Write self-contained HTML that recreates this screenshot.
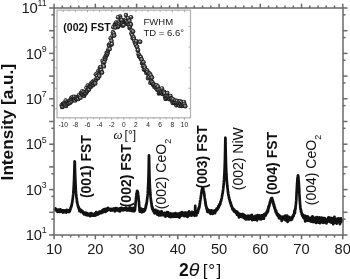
<!DOCTYPE html>
<html><head><meta charset="utf-8"><style>
html,body{margin:0;padding:0;background:#fff;width:350px;height:279px;overflow:hidden}
svg{display:block;will-change:transform}
</style></head><body>
<svg width="350" height="279" viewBox="0 0 350 279">
<rect width="350" height="279" fill="#fff"/>
<polyline points="54.50,209.07 54.62,208.90 54.74,209.34 54.86,209.82 54.98,209.55 55.10,209.97 55.22,209.26 55.34,208.40 55.46,209.73 55.58,209.86 55.70,209.12 55.82,209.25 55.94,209.47 56.06,210.24 56.18,209.65 56.30,209.18 56.42,210.65 56.54,210.07 56.66,211.13 56.78,210.74 56.90,211.17 57.02,210.07 57.14,210.84 57.26,209.80 57.38,209.92 57.50,210.20 57.62,211.88 57.74,210.53 57.86,210.22 57.98,210.15 58.10,211.34 58.22,210.64 58.34,211.03 58.46,210.96 58.58,209.68 58.70,211.03 58.82,210.53 58.94,209.93 59.06,211.00 59.18,210.71 59.30,210.59 59.42,210.66 59.54,211.58 59.66,210.69 59.78,209.80 59.90,211.86 60.02,210.19 60.14,210.73 60.26,211.28 60.38,209.45 60.50,210.33 60.62,211.72 60.74,210.85 60.86,210.51 60.98,211.07 61.10,210.48 61.22,211.02 61.34,210.52 61.46,210.00 61.58,211.49 61.70,210.90 61.82,211.38 61.94,210.99 62.06,211.92 62.18,211.51 62.30,211.27 62.42,210.52 62.54,210.37 62.66,212.10 62.78,211.75 62.90,210.77 63.02,212.61 63.14,211.57 63.26,211.34 63.38,210.42 63.50,210.83 63.62,211.55 63.74,211.60 63.86,211.53 63.98,210.34 64.10,211.69 64.22,211.62 64.34,211.19 64.46,211.53 64.58,211.60 64.70,212.24 64.82,211.50 64.94,211.78 65.06,210.67 65.18,211.00 65.30,211.44 65.42,210.96 65.54,211.62 65.66,210.67 65.78,211.36 65.90,210.95 66.02,212.19 66.14,211.08 66.26,212.41 66.38,212.62 66.50,211.46 66.62,211.83 66.74,211.12 66.86,209.74 66.98,211.73 67.10,211.58 67.22,211.02 67.34,210.82 67.46,211.23 67.58,211.23 67.70,210.64 67.82,210.74 67.94,211.70 68.06,211.08 68.18,211.00 68.30,211.65 68.42,210.82 68.54,211.49 68.66,210.36 68.78,210.82 68.90,210.86 69.02,211.25 69.14,210.95 69.26,212.02 69.38,211.49 69.50,210.57 69.62,211.76 69.74,209.90 69.86,211.11 69.98,209.52 70.10,210.14 70.22,209.03 70.34,209.11 70.46,209.69 70.58,207.97 70.70,207.58 70.82,208.01 70.94,207.76 71.06,207.34 71.18,207.34 71.30,205.96 71.42,206.28 71.54,205.59 71.66,205.42 71.78,204.81 71.83,204.85 71.88,203.57 71.93,203.90 71.98,203.21 72.03,203.33 72.08,203.34 72.13,202.92 72.18,202.73 72.23,202.23 72.28,202.07 72.33,201.73 72.38,201.80 72.43,201.27 72.48,200.08 72.53,200.53 72.58,200.30 72.63,199.47 72.68,198.74 72.73,199.26 72.78,198.46 72.83,198.16 72.88,198.06 72.93,196.87 72.98,196.62 73.03,196.11 73.08,195.83 73.13,194.99 73.18,194.70 73.23,194.03 73.28,193.68 73.33,193.09 73.38,191.87 73.43,191.62 73.48,190.75 73.53,190.10 73.58,189.42 73.63,188.64 73.68,187.60 73.73,186.90 73.78,185.96 73.83,184.97 73.88,183.79 73.93,182.80 73.98,181.72 74.03,180.65 74.08,179.47 74.13,177.86 74.18,176.45 74.23,175.05 74.28,173.40 74.33,171.71 74.38,169.96 74.43,168.16 74.48,166.45 74.53,164.62 74.58,163.26 74.63,162.02 74.68,161.46 74.73,161.51 74.78,162.16 74.83,163.39 74.88,165.10 74.93,166.88 74.98,168.52 75.03,170.45 75.08,172.11 75.13,173.70 75.18,175.51 75.23,177.06 75.28,178.21 75.33,179.56 75.38,180.85 75.43,181.99 75.48,183.24 75.53,184.40 75.58,185.19 75.63,186.28 75.68,187.31 75.73,187.79 75.78,188.71 75.83,189.40 75.88,190.43 75.93,191.08 75.98,191.85 76.03,192.48 76.08,192.86 76.13,193.70 76.18,194.00 76.23,194.56 76.28,194.64 76.33,196.08 76.38,195.94 76.43,196.69 76.48,197.13 76.53,198.01 76.58,198.15 76.63,198.19 76.68,198.85 76.73,199.18 76.78,199.68 76.83,199.55 76.88,200.30 76.93,201.41 76.98,201.21 77.03,202.00 77.08,202.55 77.13,202.09 77.18,201.67 77.23,202.44 77.28,203.19 77.33,203.37 77.38,202.79 77.43,203.44 77.48,203.72 77.53,204.00 77.58,204.19 77.63,204.08 77.68,204.40 77.73,204.76 77.85,205.80 77.97,205.54 78.09,206.53 78.21,206.09 78.33,207.61 78.45,207.42 78.57,207.70 78.69,208.70 78.81,207.43 78.93,207.85 79.05,209.14 79.17,208.73 79.29,209.19 79.41,211.07 79.53,209.72 79.65,210.11 79.77,210.23 79.89,211.00 80.01,210.56 80.13,210.53 80.25,209.74 80.37,210.27 80.49,210.50 80.61,209.65 80.73,211.03 80.85,211.02 80.97,212.01 81.09,209.99 81.21,210.46 81.33,210.58 81.45,210.83 81.57,211.29 81.69,211.31 81.81,211.71 81.93,211.78 82.05,211.70 82.17,210.85 82.29,211.57 82.41,212.07 82.53,212.51 82.65,212.64 82.77,211.26 82.89,212.08 83.01,212.46 83.13,212.83 83.25,213.44 83.37,212.84 83.49,212.31 83.61,213.25 83.73,213.24 83.85,213.33 83.97,213.20 84.09,214.45 84.21,213.63 84.33,214.14 84.45,213.06 84.57,214.24 84.69,213.36 84.81,212.74 84.93,214.03 85.05,214.26 85.17,213.75 85.29,213.91 85.41,214.63 85.53,213.66 85.65,212.61 85.77,214.22 85.89,214.21 86.01,214.83 86.13,213.91 86.25,215.03 86.37,214.97 86.49,213.34 86.61,214.89 86.73,213.54 86.85,213.26 86.97,214.18 87.09,214.00 87.21,213.05 87.33,214.59 87.45,214.90 87.57,215.47 87.69,214.52 87.81,213.54 87.93,213.94 88.05,215.31 88.17,215.28 88.29,215.07 88.41,214.54 88.53,214.92 88.65,214.65 88.77,214.63 88.89,215.08 89.01,214.93 89.13,214.74 89.25,214.94 89.37,214.52 89.49,213.53 89.61,214.44 89.73,214.81 89.85,216.05 89.97,214.56 90.09,216.22 90.21,215.83 90.33,214.20 90.45,214.29 90.57,214.90 90.69,216.01 90.81,215.04 90.93,215.26 91.05,214.30 91.17,213.13 91.29,214.59 91.41,215.30 91.53,215.57 91.65,214.76 91.77,214.84 91.89,215.54 92.01,214.61 92.13,215.52 92.25,213.87 92.37,213.90 92.49,213.88 92.61,215.00 92.73,214.27 92.85,214.73 92.97,214.91 93.09,214.87 93.21,215.56 93.33,215.65 93.45,214.01 93.57,214.70 93.69,214.37 93.81,213.77 93.93,215.73 94.05,215.01 94.17,214.28 94.29,214.10 94.41,214.63 94.53,213.57 94.65,214.14 94.77,215.15 94.89,214.92 95.01,213.62 95.13,213.84 95.25,215.54 95.37,213.13 95.49,213.65 95.61,213.07 95.73,214.31 95.85,214.22 95.97,214.80 96.09,212.08 96.21,214.04 96.33,212.72 96.45,214.33 96.57,213.70 96.69,215.03 96.81,214.05 96.93,213.01 97.05,214.63 97.17,212.89 97.29,213.40 97.41,214.39 97.53,213.96 97.65,213.90 97.77,213.57 97.89,213.90 98.01,214.06 98.13,213.61 98.25,214.08 98.37,214.21 98.49,213.23 98.61,212.48 98.73,214.21 98.85,213.01 98.97,213.43 99.09,213.62 99.21,212.20 99.33,213.15 99.45,211.60 99.57,213.23 99.69,212.30 99.81,212.69 99.93,213.02 100.05,211.96 100.17,212.45 100.29,211.83 100.41,212.25 100.53,212.96 100.65,212.17 100.77,211.99 100.89,211.26 101.01,212.59 101.13,211.88 101.25,213.07 101.37,211.24 101.49,212.47 101.61,212.95 101.73,211.59 101.85,210.66 101.97,212.56 102.09,212.17 102.21,211.85 102.33,212.08 102.45,210.90 102.57,211.74 102.69,211.63 102.81,210.61 102.93,211.56 103.05,210.63 103.17,211.64 103.29,211.77 103.41,212.19 103.53,209.38 103.65,210.97 103.77,210.50 103.89,210.66 104.01,210.47 104.13,210.51 104.25,209.07 104.37,211.24 104.49,211.58 104.61,211.12 104.73,211.32 104.85,209.71 104.97,209.61 105.09,210.91 105.21,211.18 105.33,210.36 105.45,209.00 105.57,211.96 105.69,209.56 105.81,210.72 105.93,209.08 106.05,210.63 106.17,209.99 106.29,210.86 106.41,210.42 106.53,208.60 106.65,208.98 106.77,209.85 106.89,210.16 107.01,210.91 107.13,209.76 107.25,209.47 107.37,209.49 107.49,209.48 107.61,210.23 107.73,209.42 107.85,209.38 107.97,208.35 108.09,207.90 108.21,209.39 108.33,209.85 108.45,209.30 108.57,209.69 108.69,209.77 108.81,209.24 108.93,209.96 109.05,208.70 109.17,209.21 109.29,208.93 109.41,209.23 109.53,209.63 109.65,209.77 109.77,209.22 109.89,209.43 110.01,208.82 110.13,209.01 110.25,210.05 110.37,208.98 110.49,210.06 110.61,209.52 110.73,209.28 110.85,210.64 110.97,209.01 111.09,208.97 111.21,209.22 111.33,209.43 111.45,209.40 111.57,209.87 111.69,209.34 111.81,209.56 111.93,209.08 112.05,210.08 112.17,208.99 112.29,209.07 112.41,209.30 112.53,209.54 112.65,208.79 112.77,210.48 112.89,208.88 113.01,209.06 113.13,209.04 113.25,208.97 113.37,209.77 113.49,209.48 113.61,208.81 113.73,208.97 113.85,209.15 113.97,210.47 114.09,208.92 114.21,208.45 114.33,208.58 114.45,209.18 114.57,210.55 114.69,208.66 114.81,209.50 114.93,211.32 115.05,209.11 115.17,210.53 115.29,210.38 115.41,209.88 115.53,208.43 115.65,209.67 115.77,209.19 115.89,208.06 116.01,208.18 116.13,209.47 116.25,209.57 116.37,210.34 116.49,209.91 116.61,209.06 116.73,209.08 116.85,209.30 116.97,208.62 117.09,209.97 117.21,209.42 117.33,208.82 117.45,208.93 117.57,208.56 117.69,209.07 117.81,209.60 117.93,209.09 118.05,210.13 118.17,210.62 118.29,208.92 118.41,209.40 118.53,209.13 118.65,210.65 118.77,209.64 118.89,209.81 119.01,210.02 119.13,211.08 119.25,209.61 119.37,208.67 119.49,209.06 119.61,209.81 119.73,209.36 119.85,208.77 119.97,211.33 120.09,209.44 120.21,208.93 120.33,208.82 120.45,208.04 120.57,208.47 120.69,209.10 120.81,209.10 120.93,208.73 121.05,209.75 121.17,209.36 121.29,208.64 121.41,207.83 121.53,209.45 121.65,209.36 121.77,209.17 121.89,208.30 122.01,209.35 122.13,208.20 122.25,210.06 122.37,209.46 122.49,209.47 122.61,208.71 122.73,208.51 122.85,210.47 122.97,210.01 123.09,209.05 123.21,209.81 123.33,210.47 123.45,208.51 123.57,208.93 123.69,208.93 123.81,209.67 123.93,208.51 124.05,209.48 124.17,208.46 124.29,210.00 124.41,209.95 124.53,209.14 124.65,209.84 124.77,208.78 124.89,209.10 125.01,210.01 125.13,209.24 125.25,209.57 125.37,208.60 125.49,209.79 125.61,209.64 125.73,208.37 125.85,207.58 125.97,207.77 126.09,209.25 126.21,209.13 126.33,208.12 126.45,209.40 126.57,210.05 126.69,209.21 126.81,208.95 126.93,209.94 127.05,210.56 127.17,210.40 127.29,208.79 127.41,209.88 127.53,209.41 127.65,209.14 127.77,208.82 127.89,209.56 128.01,208.92 128.13,209.98 128.25,209.58 128.37,210.09 128.49,208.43 128.61,209.32 128.73,209.87 128.85,209.57 128.97,209.47 129.09,208.76 129.21,210.53 129.33,210.10 129.45,209.59 129.57,207.36 129.69,208.57 129.81,209.39 129.93,208.75 130.05,207.72 130.17,209.48 130.29,209.58 130.41,208.37 130.53,208.92 130.65,208.78 130.77,209.69 130.89,207.81 131.01,207.98 131.13,208.87 131.25,208.78 131.37,210.90 131.49,208.84 131.61,209.49 131.73,209.01 131.85,208.82 131.97,209.63 132.09,210.70 132.21,209.09 132.33,209.97 132.45,209.66 132.57,209.88 132.69,209.68 132.81,211.24 132.93,208.47 133.05,209.24 133.17,208.57 133.29,207.89 133.41,209.44 133.53,210.90 133.65,210.18 133.77,210.44 133.89,209.89 134.01,209.44 134.13,211.08 134.25,209.25 134.37,210.69 134.42,209.30 134.47,209.61 134.52,209.77 134.57,209.59 134.62,209.94 134.67,209.99 134.72,210.76 134.77,209.57 134.82,208.27 134.87,208.21 134.92,208.69 134.97,209.11 135.02,209.65 135.07,207.89 135.12,208.33 135.17,207.85 135.22,207.46 135.27,206.72 135.32,206.46 135.37,205.72 135.42,205.66 135.47,204.72 135.52,202.86 135.57,203.40 135.62,202.90 135.67,201.97 135.72,201.32 135.77,201.51 135.82,200.56 135.87,199.55 135.92,199.26 135.97,198.77 136.02,197.72 136.07,198.01 136.12,197.24 136.17,196.95 136.22,195.82 136.27,196.48 136.32,195.63 136.37,195.16 136.42,194.40 136.47,194.04 136.52,193.45 136.57,193.97 136.62,192.99 136.67,192.98 136.72,192.81 136.77,192.23 136.82,192.39 136.87,192.48 136.92,191.84 136.97,191.97 137.02,191.61 137.07,191.23 137.12,191.15 137.17,190.75 137.22,191.16 137.27,191.47 137.32,191.27 137.37,191.33 137.42,191.45 137.47,191.10 137.52,191.47 137.57,191.93 137.62,191.37 137.67,191.74 137.72,191.80 137.77,192.07 137.82,192.16 137.87,192.57 137.92,192.51 137.97,193.02 138.02,193.34 138.07,193.67 138.12,194.58 138.17,194.57 138.22,195.00 138.27,195.27 138.32,196.20 138.37,195.68 138.42,196.65 138.47,197.59 138.52,198.27 138.57,198.28 138.62,198.74 138.67,199.52 138.72,199.76 138.77,200.62 138.82,200.70 138.87,201.81 138.92,202.10 138.97,202.22 139.02,202.04 139.07,204.31 139.12,204.63 139.17,205.40 139.22,205.13 139.27,206.71 139.32,206.90 139.37,207.18 139.42,208.24 139.47,208.74 139.52,208.93 139.57,210.40 139.62,210.44 139.67,210.18 139.72,210.19 139.77,210.49 139.82,211.62 139.87,210.72 139.92,209.82 139.97,210.00 140.02,210.48 140.07,211.11 140.12,209.97 140.17,210.91 140.22,211.38 140.27,211.11 140.32,209.36 140.44,210.35 140.56,209.63 140.68,210.97 140.80,209.86 140.92,211.12 141.04,210.80 141.16,208.70 141.28,210.11 141.40,211.16 141.52,210.85 141.64,210.55 141.76,209.88 141.88,211.26 142.00,212.28 142.12,211.13 142.24,210.90 142.36,210.83 142.48,209.90 142.60,210.68 142.72,210.31 142.84,211.79 142.96,210.28 143.08,209.36 143.20,210.38 143.32,210.78 143.44,210.86 143.56,209.66 143.68,211.66 143.80,211.07 143.92,210.67 144.04,210.48 144.16,211.26 144.28,210.55 144.40,210.75 144.52,210.26 144.64,210.21 144.76,210.63 144.88,209.63 145.00,208.77 145.12,209.67 145.24,208.89 145.36,208.00 145.48,208.70 145.60,207.57 145.72,207.89 145.84,206.19 145.96,205.09 146.08,204.78 146.13,205.79 146.18,205.05 146.23,205.15 146.28,204.92 146.33,203.93 146.38,205.15 146.43,203.69 146.48,203.97 146.53,202.98 146.58,203.29 146.63,203.41 146.68,202.65 146.73,202.13 146.78,202.13 146.83,201.59 146.88,201.68 146.93,202.01 146.98,200.34 147.03,200.04 147.08,199.87 147.13,199.49 147.18,198.68 147.23,198.81 147.28,198.44 147.33,197.76 147.38,196.77 147.43,197.15 147.48,195.72 147.53,195.77 147.58,195.32 147.63,193.97 147.68,193.74 147.73,193.42 147.78,192.44 147.83,191.35 147.88,190.52 147.93,190.13 147.98,189.07 148.03,188.11 148.08,187.46 148.13,186.24 148.18,185.26 148.23,184.22 148.28,183.00 148.33,181.62 148.38,180.25 148.43,178.85 148.48,177.23 148.53,175.31 148.58,173.55 148.63,171.44 148.68,169.20 148.73,166.84 148.78,164.14 148.83,161.63 148.88,158.89 148.93,156.71 148.98,155.35 149.03,155.51 149.08,157.18 149.13,159.49 149.18,162.09 149.23,164.77 149.28,167.33 149.33,169.77 149.38,171.90 149.43,173.89 149.48,175.81 149.53,177.37 149.58,179.40 149.63,180.44 149.68,182.07 149.73,183.00 149.78,184.40 149.83,185.65 149.88,186.45 149.93,187.72 149.98,188.67 150.03,189.73 150.08,190.21 150.13,190.87 150.18,191.49 150.23,192.54 150.28,192.89 150.33,193.86 150.38,194.54 150.43,194.93 150.48,195.35 150.53,196.39 150.58,196.90 150.63,197.39 150.68,197.80 150.73,198.66 150.78,198.38 150.83,199.39 150.88,199.47 150.93,200.42 150.98,200.32 151.03,200.69 151.08,201.43 151.13,200.69 151.18,201.78 151.23,201.46 151.28,202.17 151.33,203.26 151.38,203.44 151.43,203.33 151.48,203.81 151.53,204.09 151.58,204.54 151.63,205.61 151.68,205.03 151.73,206.36 151.78,205.20 151.83,206.04 151.88,206.27 151.93,206.21 151.98,206.15 152.03,207.34 152.15,208.03 152.27,208.09 152.39,209.13 152.51,208.87 152.63,207.60 152.75,209.68 152.87,208.87 152.99,210.55 153.11,209.70 153.23,210.41 153.35,210.49 153.47,210.29 153.59,209.65 153.71,211.01 153.83,211.27 153.95,212.30 154.07,211.31 154.19,212.01 154.31,211.18 154.43,211.88 154.55,210.45 154.67,213.48 154.79,212.12 154.91,211.16 155.03,212.20 155.15,212.61 155.27,212.20 155.39,213.19 155.51,211.94 155.63,209.96 155.75,211.11 155.87,213.12 155.99,212.95 156.11,212.57 156.23,211.35 156.35,213.02 156.47,212.94 156.59,211.55 156.71,211.60 156.83,212.76 156.95,213.47 157.07,213.91 157.19,213.16 157.31,214.61 157.43,211.90 157.55,213.21 157.67,212.21 157.79,210.95 157.91,211.63 158.03,213.84 158.15,211.98 158.27,211.73 158.39,213.57 158.51,213.80 158.63,213.03 158.75,214.49 158.87,211.59 158.99,215.34 159.11,214.13 159.23,213.36 159.35,213.35 159.47,213.01 159.59,212.94 159.71,213.44 159.83,212.17 159.95,215.39 160.07,213.34 160.19,214.07 160.31,213.28 160.43,213.22 160.55,214.37 160.67,214.14 160.79,212.76 160.91,213.23 161.03,214.28 161.15,211.64 161.27,211.40 161.39,215.16 161.51,213.45 161.63,211.30 161.75,213.04 161.87,213.63 161.99,214.09 162.11,214.45 162.23,214.16 162.35,214.53 162.47,213.27 162.59,214.42 162.71,214.48 162.83,215.25 162.95,214.12 163.07,214.98 163.19,214.28 163.31,213.08 163.43,213.77 163.55,213.65 163.67,213.81 163.79,214.12 163.91,214.33 164.03,214.52 164.15,213.47 164.27,215.33 164.39,212.91 164.51,214.24 164.63,215.05 164.75,214.80 164.87,215.01 164.99,214.18 165.11,215.08 165.23,213.22 165.35,215.18 165.47,216.70 165.59,215.16 165.71,216.47 165.83,214.49 165.95,213.40 166.07,213.83 166.19,215.85 166.31,215.29 166.43,212.73 166.55,214.22 166.67,214.56 166.79,213.51 166.91,212.10 167.03,213.29 167.15,214.48 167.27,214.28 167.39,214.03 167.51,215.30 167.63,215.77 167.75,214.65 167.87,215.68 167.99,214.80 168.11,214.65 168.23,212.38 168.35,215.65 168.47,214.92 168.59,214.98 168.71,214.38 168.83,213.78 168.95,215.36 169.07,215.72 169.19,216.57 169.31,215.86 169.43,214.38 169.55,214.89 169.67,216.00 169.79,215.35 169.91,214.96 170.03,214.48 170.15,215.61 170.27,215.26 170.39,216.87 170.51,216.18 170.63,213.34 170.75,217.25 170.87,215.35 170.99,214.77 171.11,215.38 171.23,215.83 171.35,215.06 171.47,215.01 171.59,215.08 171.71,216.93 171.83,215.15 171.95,215.88 172.07,215.56 172.19,214.77 172.31,214.34 172.43,214.08 172.55,215.51 172.67,214.05 172.79,213.79 172.91,213.83 173.03,213.57 173.15,215.15 173.27,215.18 173.39,214.15 173.51,216.41 173.63,214.78 173.75,215.55 173.87,215.38 173.99,216.80 174.11,215.92 174.23,215.02 174.35,214.08 174.47,213.97 174.59,215.08 174.71,215.20 174.83,215.86 174.95,214.58 175.07,215.26 175.19,214.37 175.31,213.18 175.43,215.03 175.55,216.55 175.67,215.89 175.79,216.51 175.91,216.24 176.03,213.65 176.15,214.76 176.27,216.58 176.39,214.32 176.51,213.69 176.63,215.37 176.75,215.70 176.87,215.35 176.99,214.70 177.11,214.33 177.23,213.77 177.35,213.74 177.47,213.77 177.59,213.58 177.71,214.31 177.83,216.59 177.95,215.14 178.07,214.67 178.19,215.40 178.31,214.05 178.43,215.37 178.55,215.96 178.67,213.50 178.79,214.31 178.91,214.77 179.03,214.04 179.15,213.89 179.27,214.64 179.39,217.56 179.51,215.70 179.63,215.48 179.75,216.03 179.87,214.79 179.99,213.76 180.11,215.49 180.23,216.16 180.35,212.85 180.47,215.42 180.59,216.22 180.71,214.67 180.83,214.46 180.95,215.63 181.07,214.05 181.19,215.37 181.31,215.81 181.43,214.65 181.55,214.02 181.67,215.47 181.79,214.45 181.91,214.88 182.03,212.06 182.15,215.49 182.27,213.30 182.39,214.78 182.51,214.85 182.63,213.95 182.75,213.75 182.87,213.35 182.99,214.32 183.11,215.27 183.23,215.19 183.35,214.09 183.47,214.00 183.59,213.13 183.71,214.14 183.83,213.46 183.95,212.97 184.07,214.36 184.19,216.07 184.31,215.74 184.43,215.99 184.55,212.82 184.67,215.35 184.79,213.17 184.91,213.83 185.03,212.64 185.15,213.37 185.27,214.50 185.39,214.59 185.51,214.28 185.63,214.17 185.75,214.90 185.87,214.36 185.99,212.64 186.11,216.07 186.23,214.02 186.35,215.22 186.47,214.07 186.59,213.37 186.71,214.29 186.83,213.42 186.95,215.86 187.07,213.04 187.19,214.81 187.31,213.53 187.43,213.97 187.55,216.83 187.67,214.92 187.79,213.90 187.91,212.51 188.03,213.81 188.15,213.83 188.27,215.54 188.39,212.59 188.51,212.20 188.63,214.02 188.75,214.27 188.87,215.70 188.99,213.11 189.11,211.33 189.23,213.26 189.35,212.69 189.47,213.42 189.59,214.98 189.71,212.58 189.83,215.21 189.95,214.15 190.07,213.64 190.19,213.01 190.31,213.47 190.43,213.49 190.55,214.65 190.67,215.18 190.79,213.79 190.91,214.57 191.03,215.16 191.15,215.11 191.27,214.31 191.39,215.68 191.51,215.15 191.63,215.43 191.75,213.58 191.87,213.35 191.99,211.73 192.11,215.24 192.23,214.41 192.35,212.80 192.47,213.92 192.59,214.02 192.71,211.99 192.83,214.02 192.95,214.82 193.07,214.97 193.19,213.33 193.31,213.36 193.43,215.00 193.55,214.61 193.67,213.12 193.79,213.07 193.91,214.25 194.03,213.02 194.15,213.06 194.27,215.32 194.39,213.90 194.51,213.20 194.63,214.13 194.75,215.60 194.87,213.84 194.99,212.87 195.11,212.10 195.23,205.80 195.35,211.16 195.47,214.57 195.59,212.67 195.71,212.42 195.83,212.65 195.95,213.39 196.07,214.53 196.19,212.90 196.31,213.94 196.43,215.37 196.55,210.84 196.67,212.32 196.79,211.24 196.91,213.39 197.03,211.25 197.15,211.00 197.27,210.86 197.39,211.98 197.51,212.74 197.63,211.72 197.75,213.11 197.87,212.48 197.99,210.84 198.11,211.42 198.23,210.52 198.35,210.19 198.47,208.38 198.59,208.53 198.71,209.13 198.83,207.86 198.95,208.80 199.07,208.02 199.19,206.70 199.31,207.52 199.43,206.32 199.55,206.29 199.67,204.76 199.79,203.20 199.84,204.20 199.89,203.35 199.94,203.62 199.99,203.41 200.04,203.11 200.09,201.41 200.14,200.63 200.19,201.21 200.24,201.43 200.29,200.40 200.34,200.52 200.39,199.65 200.44,199.52 200.49,199.16 200.54,198.65 200.59,198.79 200.64,198.34 200.69,198.50 200.74,197.62 200.79,197.63 200.84,196.77 200.89,196.71 200.94,195.96 200.99,195.48 201.04,195.80 201.09,195.23 201.14,194.92 201.19,194.01 201.24,193.36 201.29,193.32 201.34,193.39 201.39,192.50 201.44,193.12 201.49,191.89 201.54,192.25 201.59,192.54 201.64,190.72 201.69,190.75 201.74,191.24 201.79,190.65 201.84,190.51 201.89,190.19 201.94,190.40 201.99,189.96 202.04,189.45 202.09,189.33 202.14,188.90 202.19,189.03 202.24,188.29 202.29,188.95 202.34,188.57 202.39,189.02 202.44,188.76 202.49,188.03 202.54,188.54 202.59,188.13 202.64,188.25 202.69,188.48 202.74,188.31 202.79,188.37 202.84,188.40 202.89,188.15 202.94,188.24 202.99,188.64 203.04,188.82 203.09,188.63 203.14,188.86 203.19,188.71 203.24,188.45 203.29,189.08 203.34,189.50 203.39,189.73 203.44,190.12 203.49,190.36 203.54,190.61 203.59,190.69 203.64,190.94 203.69,190.86 203.74,191.46 203.79,191.68 203.84,192.27 203.89,191.69 203.94,192.33 203.99,192.23 204.04,192.85 204.09,192.94 204.14,193.83 204.19,193.83 204.24,193.52 204.29,195.18 204.34,194.67 204.39,194.82 204.44,195.63 204.49,195.85 204.54,196.00 204.59,197.11 204.64,197.04 204.69,197.92 204.74,198.21 204.79,198.55 204.84,198.71 204.89,198.94 204.94,199.16 204.99,200.38 205.04,199.14 205.09,199.87 205.14,200.42 205.19,201.30 205.24,201.51 205.29,201.52 205.34,201.92 205.39,203.35 205.44,202.38 205.49,201.70 205.54,204.44 205.59,203.14 205.64,203.79 205.69,204.35 205.74,203.75 205.86,205.94 205.98,205.71 206.10,205.41 206.22,207.00 206.34,207.62 206.46,207.67 206.58,208.46 206.70,207.36 206.82,209.48 206.94,208.44 207.06,210.31 207.18,209.08 207.30,209.90 207.42,212.02 207.54,210.21 207.66,211.24 207.78,210.90 207.90,209.42 208.02,211.74 208.14,211.83 208.26,209.86 208.38,211.08 208.50,209.98 208.62,211.11 208.74,212.23 208.86,211.61 208.98,210.57 209.10,210.89 209.22,211.78 209.34,211.80 209.46,212.00 209.58,212.46 209.70,210.29 209.82,212.04 209.94,213.09 210.06,212.55 210.18,211.51 210.30,211.62 210.42,212.35 210.54,212.85 210.66,212.26 210.78,213.80 210.90,213.48 211.02,211.61 211.14,212.77 211.26,212.01 211.38,211.25 211.50,211.77 211.62,212.33 211.74,210.43 211.86,211.74 211.98,212.65 212.10,211.66 212.22,211.94 212.34,213.06 212.46,212.20 212.58,212.39 212.70,213.98 212.82,212.35 212.94,212.42 213.06,212.52 213.18,213.56 213.30,212.37 213.42,212.05 213.54,211.88 213.66,212.93 213.78,211.32 213.90,212.90 214.02,211.97 214.14,210.58 214.26,212.26 214.38,212.04 214.50,210.61 214.62,211.80 214.74,211.65 214.86,211.13 214.98,210.35 215.10,213.03 215.22,211.78 215.34,211.84 215.46,211.81 215.58,211.52 215.70,211.41 215.82,210.37 215.94,211.24 216.06,210.31 216.18,209.97 216.30,210.77 216.42,209.96 216.54,208.64 216.66,209.56 216.78,210.18 216.90,209.60 217.02,210.12 217.14,209.06 217.26,208.46 217.38,209.58 217.50,208.96 217.62,207.81 217.74,208.84 217.86,208.16 217.98,208.85 218.10,208.51 218.22,208.10 218.34,206.04 218.46,207.60 218.58,207.47 218.70,207.27 218.82,206.77 218.94,206.00 219.06,206.06 219.18,204.63 219.30,205.54 219.42,204.51 219.54,204.96 219.66,204.48 219.78,205.39 219.90,204.31 220.02,203.96 220.14,203.72 220.26,204.44 220.38,202.41 220.50,202.73 220.62,202.37 220.74,201.88 220.86,201.45 220.98,200.72 221.10,201.09 221.22,200.45 221.34,199.41 221.46,198.98 221.58,198.69 221.70,198.23 221.82,197.77 221.94,196.87 222.06,195.77 222.18,195.99 222.30,194.37 222.42,193.93 222.47,194.08 222.52,193.35 222.57,193.79 222.62,193.55 222.67,193.07 222.72,192.45 222.77,192.08 222.82,191.79 222.87,191.24 222.92,191.54 222.97,190.39 223.02,190.56 223.07,189.95 223.12,189.47 223.17,189.26 223.22,188.89 223.27,188.36 223.32,187.66 223.37,187.05 223.42,186.60 223.47,186.49 223.52,185.94 223.57,185.46 223.62,184.63 223.67,184.62 223.72,183.38 223.77,183.16 223.82,182.63 223.87,181.80 223.92,181.05 223.97,180.52 224.02,179.73 224.07,179.18 224.12,178.28 224.17,177.52 224.22,176.94 224.27,175.90 224.32,175.21 224.37,174.32 224.42,173.50 224.47,172.43 224.52,171.26 224.57,170.38 224.62,169.01 224.67,167.80 224.72,166.49 224.77,165.27 224.82,163.59 224.87,161.90 224.92,160.22 224.97,158.25 225.02,156.27 225.07,153.81 225.12,151.34 225.17,148.51 225.22,145.62 225.27,142.48 225.32,139.71 225.37,137.83 225.42,137.67 225.47,139.24 225.52,141.84 225.57,144.97 225.62,147.98 225.67,150.79 225.72,153.40 225.77,155.65 225.82,157.75 225.87,159.85 225.92,161.72 225.97,163.18 226.02,164.71 226.07,166.17 226.12,167.47 226.17,168.92 226.22,170.03 226.27,171.28 226.32,172.35 226.37,173.08 226.42,174.23 226.47,174.76 226.52,175.92 226.57,176.85 226.62,177.44 226.67,178.04 226.72,178.98 226.77,179.97 226.82,180.39 226.87,180.86 226.92,181.84 226.97,182.51 227.02,182.75 227.07,183.50 227.12,184.32 227.17,184.71 227.22,185.32 227.27,185.60 227.32,186.14 227.37,186.37 227.42,186.94 227.47,187.97 227.52,187.92 227.57,188.22 227.62,188.76 227.67,189.01 227.72,189.85 227.77,190.36 227.82,190.20 227.87,191.17 227.92,191.87 227.97,191.26 228.02,192.16 228.07,192.37 228.12,193.07 228.17,193.38 228.22,193.65 228.27,193.71 228.32,193.77 228.37,195.01 228.42,194.23 228.54,195.63 228.66,196.26 228.78,196.22 228.90,197.12 229.02,198.32 229.14,197.43 229.26,199.15 229.38,199.17 229.50,199.68 229.62,199.58 229.74,200.94 229.86,200.65 229.98,201.96 230.10,201.41 230.22,202.80 230.34,202.98 230.46,202.11 230.58,203.34 230.70,203.80 230.82,202.90 230.94,204.32 231.06,205.34 231.18,204.71 231.30,206.19 231.42,205.04 231.54,205.26 231.66,206.67 231.78,206.98 231.90,206.71 232.02,207.06 232.14,207.98 232.26,207.16 232.38,209.20 232.50,208.31 232.62,208.51 232.74,208.63 232.86,208.42 232.98,209.74 233.10,208.61 233.22,209.37 233.34,209.91 233.46,210.64 233.58,210.68 233.70,209.67 233.82,210.87 233.94,210.23 234.06,209.60 234.18,209.77 234.30,209.50 234.42,211.14 234.54,211.93 234.66,210.35 234.78,211.07 234.90,210.53 235.02,211.59 235.14,210.72 235.26,211.14 235.38,211.37 235.50,211.67 235.62,211.88 235.74,212.13 235.86,212.25 235.98,211.69 236.10,213.13 236.22,211.27 236.34,213.01 236.46,212.16 236.58,213.23 236.70,213.49 236.82,211.55 236.94,213.77 237.06,214.75 237.18,214.35 237.30,214.10 237.42,211.94 237.54,213.82 237.66,213.25 237.78,215.14 237.90,213.98 238.02,213.78 238.14,212.82 238.26,215.25 238.38,214.12 238.50,214.50 238.62,215.84 238.74,214.98 238.86,215.30 238.98,217.35 239.10,214.65 239.22,214.76 239.34,215.74 239.46,216.65 239.58,213.96 239.70,215.17 239.82,214.48 239.94,214.13 240.06,216.07 240.18,214.79 240.30,215.87 240.42,215.74 240.54,215.80 240.66,215.75 240.78,214.68 240.90,215.71 241.02,216.03 241.14,216.19 241.26,215.61 241.38,216.90 241.50,216.55 241.62,216.13 241.74,216.69 241.86,216.27 241.98,216.82 242.10,214.17 242.22,214.90 242.34,215.85 242.46,216.41 242.58,214.12 242.70,216.10 242.82,216.56 242.94,216.20 243.06,216.23 243.18,215.11 243.30,216.65 243.42,214.46 243.54,217.64 243.66,216.02 243.78,217.85 243.90,214.91 244.02,217.22 244.14,216.98 244.26,215.97 244.38,215.65 244.50,218.22 244.62,217.44 244.74,218.61 244.86,217.01 244.98,217.30 245.10,217.58 245.22,217.96 245.34,217.64 245.46,218.04 245.58,216.67 245.70,215.61 245.82,219.36 245.94,217.40 246.06,217.74 246.18,216.75 246.30,218.34 246.42,217.47 246.54,218.46 246.66,216.56 246.78,217.23 246.90,217.53 247.02,216.95 247.14,217.64 247.26,219.10 247.38,216.72 247.50,217.07 247.62,217.58 247.74,216.32 247.86,216.06 247.98,218.65 248.10,218.31 248.22,215.72 248.34,215.87 248.46,218.30 248.58,218.80 248.70,218.20 248.82,218.06 248.94,219.29 249.06,217.48 249.18,218.97 249.30,218.90 249.42,216.51 249.54,218.33 249.66,217.64 249.78,216.86 249.90,216.66 250.02,217.97 250.14,217.55 250.26,218.55 250.38,215.63 250.50,216.89 250.62,218.89 250.74,217.64 250.86,216.84 250.98,217.12 251.10,215.58 251.22,216.11 251.34,218.31 251.46,217.80 251.58,219.18 251.70,217.44 251.82,217.56 251.94,214.76 252.06,217.64 252.18,220.16 252.30,218.54 252.42,217.65 252.54,219.23 252.66,218.79 252.78,218.23 252.90,217.42 253.02,218.01 253.14,218.86 253.26,216.93 253.38,218.47 253.50,218.44 253.62,219.46 253.74,218.79 253.86,217.14 253.98,219.76 254.10,217.98 254.22,217.06 254.34,218.31 254.46,217.59 254.58,219.15 254.70,216.34 254.82,216.57 254.94,217.56 255.06,219.86 255.18,219.03 255.30,216.68 255.42,215.82 255.54,217.45 255.66,216.35 255.78,218.48 255.90,217.99 256.02,217.76 256.14,217.27 256.26,219.52 256.38,216.65 256.50,216.20 256.62,219.05 256.74,219.28 256.86,217.30 256.98,218.46 257.10,220.43 257.22,216.75 257.34,217.50 257.46,218.22 257.58,215.22 257.70,217.49 257.82,218.51 257.94,217.52 258.06,218.83 258.18,218.50 258.30,217.17 258.42,218.24 258.54,218.11 258.66,215.68 258.78,216.60 258.90,216.66 259.02,216.96 259.14,217.01 259.26,215.89 259.38,217.56 259.50,215.43 259.62,218.60 259.74,217.81 259.86,219.07 259.98,217.89 260.10,216.91 260.22,215.85 260.34,218.22 260.46,217.46 260.58,217.86 260.70,218.28 260.82,218.77 260.94,217.37 261.06,219.35 261.18,217.30 261.30,217.39 261.42,218.13 261.54,218.50 261.66,218.90 261.78,215.35 261.90,218.82 262.02,215.69 262.14,216.71 262.26,217.74 262.38,218.57 262.50,216.23 262.62,215.51 262.74,218.29 262.86,217.58 262.98,216.09 263.10,216.75 263.22,214.96 263.34,217.51 263.46,216.28 263.58,218.01 263.70,214.53 263.82,217.28 263.94,218.65 264.06,216.46 264.18,216.36 264.30,214.22 264.42,216.32 264.54,215.88 264.66,215.17 264.78,214.08 264.90,215.53 265.02,214.35 265.14,214.70 265.26,215.31 265.38,214.80 265.50,214.69 265.62,215.38 265.74,213.27 265.86,215.43 265.98,212.96 266.10,212.97 266.22,213.69 266.34,214.06 266.46,213.38 266.58,212.56 266.70,212.11 266.82,212.26 266.94,211.44 267.06,212.44 267.18,211.54 267.30,212.68 267.42,210.57 267.54,210.75 267.66,210.88 267.78,209.39 267.90,209.42 268.02,211.44 268.14,209.21 268.26,209.89 268.38,207.79 268.50,206.48 268.62,208.08 268.67,207.53 268.72,207.57 268.77,207.01 268.82,206.66 268.87,206.09 268.92,207.33 268.97,205.58 269.02,206.93 269.07,206.01 269.12,205.31 269.17,205.39 269.22,206.18 269.27,205.85 269.32,205.52 269.37,205.10 269.42,204.23 269.47,205.41 269.52,204.24 269.57,203.97 269.62,203.80 269.67,203.66 269.72,202.91 269.77,203.27 269.82,202.88 269.87,202.84 269.92,202.02 269.97,203.71 270.02,201.91 270.07,202.49 270.12,202.31 270.17,202.46 270.22,202.70 270.27,201.80 270.32,201.76 270.37,201.02 270.42,201.76 270.47,200.24 270.52,200.61 270.57,200.68 270.62,200.73 270.67,200.60 270.72,200.60 270.77,200.19 270.82,199.81 270.87,199.76 270.92,200.17 270.97,199.55 271.02,199.71 271.07,199.15 271.12,198.34 271.17,198.78 271.22,199.09 271.27,199.57 271.32,199.42 271.37,199.48 271.42,198.44 271.47,199.03 271.52,198.66 271.57,198.93 271.62,198.64 271.67,198.11 271.72,198.99 271.77,198.88 271.82,199.11 271.87,198.46 271.92,199.31 271.97,199.42 272.02,199.61 272.07,199.71 272.12,199.00 272.17,198.21 272.22,199.85 272.27,199.12 272.32,199.55 272.37,200.28 272.42,200.05 272.47,200.18 272.52,200.53 272.57,199.51 272.62,201.41 272.67,200.53 272.72,200.72 272.77,201.32 272.82,201.15 272.87,200.99 272.92,201.51 272.97,201.57 273.02,201.62 273.07,203.15 273.12,201.60 273.17,201.38 273.22,202.22 273.27,202.39 273.32,203.84 273.37,203.37 273.42,203.93 273.47,204.01 273.52,203.37 273.57,204.53 273.62,204.35 273.67,205.54 273.72,204.76 273.77,204.81 273.82,205.46 273.87,205.66 273.92,204.32 273.97,206.33 274.02,206.43 274.07,206.48 274.12,205.44 274.17,205.06 274.22,206.33 274.27,207.16 274.32,207.16 274.37,206.39 274.42,207.83 274.47,206.47 274.52,206.65 274.57,207.70 274.62,207.48 274.74,207.80 274.86,207.61 274.98,209.80 275.10,208.56 275.22,210.04 275.34,210.67 275.46,210.35 275.58,210.90 275.70,211.82 275.82,212.61 275.94,212.39 276.06,210.71 276.18,210.54 276.30,211.88 276.42,211.67 276.54,213.37 276.66,213.22 276.78,213.13 276.90,214.56 277.02,214.70 277.14,213.92 277.26,214.50 277.38,215.39 277.50,214.22 277.62,215.01 277.74,213.95 277.86,215.10 277.98,215.55 278.10,215.29 278.22,215.73 278.34,216.38 278.46,216.25 278.58,215.23 278.70,215.46 278.82,214.92 278.94,218.12 279.06,216.89 279.18,217.03 279.30,216.53 279.42,217.30 279.54,217.47 279.66,216.19 279.78,216.93 279.90,218.48 280.02,215.86 280.14,216.32 280.26,218.13 280.38,216.68 280.50,218.50 280.62,216.53 280.74,218.06 280.86,218.73 280.98,218.27 281.10,218.74 281.22,217.67 281.34,217.71 281.46,217.89 281.58,218.59 281.70,220.97 281.82,217.88 281.94,220.21 282.06,217.74 282.18,216.72 282.30,217.74 282.42,218.54 282.54,218.31 282.66,218.28 282.78,218.79 282.90,218.85 283.02,219.27 283.14,216.78 283.26,218.23 283.38,217.09 283.50,218.55 283.62,218.18 283.74,218.49 283.86,217.75 283.98,217.33 284.10,218.05 284.22,219.18 284.34,219.33 284.46,216.39 284.58,218.76 284.70,218.79 284.82,216.68 284.94,217.15 285.06,217.85 285.18,219.00 285.30,215.66 285.42,218.07 285.54,217.90 285.66,218.80 285.78,220.33 285.90,220.26 286.02,218.15 286.14,218.19 286.26,218.98 286.38,220.13 286.50,220.48 286.62,219.14 286.74,220.53 286.86,217.68 286.98,217.39 287.10,215.64 287.22,217.73 287.34,219.52 287.46,219.85 287.58,221.95 287.70,219.51 287.82,219.01 287.94,217.62 288.06,218.05 288.18,218.08 288.30,218.53 288.42,217.99 288.54,217.05 288.66,220.06 288.78,219.33 288.90,220.44 289.02,216.85 289.14,217.24 289.26,217.88 289.38,220.19 289.50,218.57 289.62,219.05 289.74,218.68 289.86,218.99 289.98,218.16 290.10,219.22 290.22,217.78 290.34,218.49 290.46,219.09 290.58,218.89 290.70,219.25 290.82,217.84 290.94,218.96 291.06,218.24 291.18,218.90 291.30,220.00 291.42,217.28 291.54,219.30 291.66,217.30 291.78,217.46 291.90,219.55 292.02,218.65 292.14,218.05 292.26,218.22 292.38,218.43 292.50,216.28 292.62,217.11 292.74,216.30 292.86,216.93 292.98,215.99 293.10,216.82 293.22,215.89 293.34,215.07 293.46,215.34 293.58,215.55 293.70,215.85 293.82,214.41 293.94,213.95 294.06,214.16 294.18,214.26 294.30,212.78 294.42,210.80 294.54,212.71 294.66,211.77 294.78,211.29 294.90,213.06 295.02,210.50 295.07,210.89 295.12,209.14 295.17,210.09 295.22,210.21 295.27,209.55 295.32,209.02 295.37,209.24 295.42,208.60 295.47,209.15 295.52,208.08 295.57,207.10 295.62,206.00 295.67,206.41 295.72,206.27 295.77,205.29 295.82,204.93 295.87,204.08 295.92,203.87 295.97,203.94 296.02,203.12 296.07,202.50 296.12,201.73 296.17,201.03 296.22,200.68 296.27,200.39 296.32,198.91 296.37,198.52 296.42,196.78 296.47,195.86 296.52,195.46 296.57,193.69 296.62,192.66 296.67,191.90 296.72,190.48 296.77,189.47 296.82,189.28 296.87,187.78 296.92,186.99 296.97,186.08 297.02,185.08 297.07,184.55 297.12,183.68 297.17,182.91 297.22,182.12 297.27,181.27 297.32,180.78 297.37,180.05 297.42,179.18 297.47,178.69 297.52,178.09 297.57,177.92 297.62,177.31 297.67,176.88 297.72,176.46 297.77,176.24 297.82,175.81 297.87,175.75 297.92,175.62 297.97,175.55 298.02,175.46 298.07,175.66 298.12,175.57 298.17,175.83 298.22,176.09 298.27,176.39 298.32,176.66 298.37,176.98 298.42,177.43 298.47,177.99 298.52,178.44 298.57,179.13 298.62,179.56 298.67,180.42 298.72,181.45 298.77,181.60 298.82,182.58 298.87,183.62 298.92,184.27 298.97,185.28 299.02,185.53 299.07,186.79 299.12,188.21 299.17,188.66 299.22,189.87 299.27,190.22 299.32,192.04 299.37,193.41 299.42,193.69 299.47,194.82 299.52,195.82 299.57,197.42 299.62,197.39 299.67,197.78 299.72,200.14 299.77,199.65 299.82,201.24 299.87,200.61 299.92,202.23 299.97,203.22 300.02,203.17 300.07,204.07 300.12,205.24 300.17,205.01 300.22,206.21 300.27,207.44 300.32,205.51 300.37,207.39 300.42,207.93 300.47,207.66 300.52,209.25 300.57,209.44 300.62,209.16 300.67,209.46 300.72,209.32 300.77,208.82 300.82,210.22 300.87,209.76 300.92,209.90 300.97,211.40 301.02,210.62 301.14,212.04 301.26,210.92 301.38,211.85 301.50,212.63 301.62,214.19 301.74,213.31 301.86,214.45 301.98,213.47 302.10,214.54 302.22,215.50 302.34,214.15 302.46,214.61 302.58,216.14 302.70,214.66 302.82,216.35 302.94,216.59 303.06,216.36 303.18,217.47 303.30,217.35 303.42,217.24 303.54,215.62 303.66,215.81 303.78,217.87 303.90,215.97 304.02,217.94 304.14,217.61 304.26,217.18 304.38,217.92 304.50,215.49 304.62,217.96 304.74,219.63 304.86,216.69 304.98,218.71 305.10,218.58 305.22,221.34 305.34,216.99 305.46,217.22 305.58,217.26 305.70,217.07 305.82,216.21 305.94,218.38 306.06,217.19 306.18,219.32 306.30,218.86 306.42,217.11 306.54,217.97 306.66,220.19 306.78,218.06 306.90,218.79 307.02,219.63 307.14,218.05 307.26,219.16 307.38,220.70 307.50,220.14 307.62,216.42 307.74,220.73 307.86,218.49 307.98,218.01 308.10,218.00 308.22,220.48 308.34,219.32 308.46,218.74 308.58,217.89 308.70,219.83 308.82,220.55 308.94,217.70 309.06,217.59 309.18,218.60 309.30,219.93 309.42,218.60 309.54,219.03 309.66,218.08 309.78,220.91 309.90,219.11 310.02,219.50 310.14,220.81 310.26,219.06 310.38,219.33 310.50,219.96 310.62,218.89 310.74,221.38 310.86,219.56 310.98,218.93 311.10,219.16 311.22,218.11 311.34,221.24 311.46,221.68 311.58,219.33 311.70,219.06 311.82,216.82 311.94,218.90 312.06,220.97 312.18,218.69 312.30,220.99 312.42,221.89 312.54,216.31 312.66,219.46 312.78,218.96 312.90,219.19 313.02,217.50 313.14,219.63 313.26,218.37 313.38,221.50 313.50,222.03 313.62,218.17 313.74,218.13 313.86,219.49 313.98,219.91 314.10,220.02 314.22,221.23 314.34,218.18 314.46,219.42 314.58,219.66 314.70,219.87 314.82,218.97 314.94,219.75 315.06,219.44 315.18,222.13 315.30,219.82 315.42,217.52 315.54,221.31 315.66,220.80 315.78,219.40 315.90,219.34 316.02,219.83 316.14,222.95 316.26,219.99 316.38,222.34 316.50,221.83 316.62,219.90 316.74,221.08 316.86,219.53 316.98,217.01 317.10,219.56 317.22,219.63 317.34,221.90 317.46,221.54 317.58,222.12 317.70,221.37 317.82,222.15 317.94,221.54 318.06,220.90 318.18,222.01 318.30,222.60 318.42,222.51 318.54,219.94 318.66,220.49 318.78,219.12 318.90,219.09 319.02,221.04 319.14,219.61 319.26,222.59 319.38,217.31 319.50,218.85 319.62,220.84 319.74,222.18 319.86,219.99 319.98,223.17 320.10,221.62 320.22,219.45 320.34,220.40 320.46,221.19 320.58,219.14 320.70,221.96 320.82,220.08 320.94,221.18 321.06,221.68 321.18,219.80 321.30,221.87 321.42,217.74 321.54,221.28 321.66,217.61 321.78,222.00 321.90,219.57 322.02,222.14 322.14,222.34 322.26,220.19 322.38,219.44 322.50,222.23 322.62,218.71 322.74,221.53 322.86,220.20 322.98,219.84 323.10,219.53 323.22,222.95 323.34,218.05 323.46,219.56 323.58,220.97 323.70,221.82 323.82,222.77 323.94,222.29 324.06,219.55 324.18,220.82 324.30,221.95 324.42,221.07 324.54,218.07 324.66,220.78 324.78,221.14 324.90,218.35 325.02,219.63 325.14,220.22 325.26,221.15 325.38,222.51 325.50,221.95 325.62,220.95 325.74,220.57 325.86,219.74 325.98,219.45 326.10,219.92 326.22,219.92 326.34,221.68 326.46,223.33 326.58,220.97 326.70,221.59 326.82,221.15 326.94,220.60 327.06,222.00 327.18,221.81 327.30,220.36 327.42,220.05 327.54,221.17 327.66,219.51 327.78,220.55 327.90,221.72 328.02,220.19 328.14,217.53 328.26,221.24 328.38,218.58 328.50,218.28 328.62,218.11 328.74,221.47 328.86,217.37 328.98,220.12 329.10,220.67 329.22,220.64 329.34,219.44 329.46,220.24 329.58,220.58 329.70,218.47 329.82,221.38 329.94,221.85 330.06,219.19 330.18,219.33 330.30,218.77 330.42,221.92 330.54,218.80 330.66,219.67 330.78,217.82 330.90,222.20 331.02,220.07 331.14,220.80 331.26,222.71 331.38,221.44 331.50,218.77 331.62,221.10 331.74,221.47 331.86,219.17 331.98,219.00 332.10,219.01 332.22,221.59 332.34,220.54 332.46,218.96 332.58,221.42 332.70,221.56 332.82,219.27 332.94,218.21 333.06,222.16 333.18,224.27 333.30,222.61 333.42,221.98 333.54,220.71 333.66,219.62 333.78,220.73 333.90,221.55 334.02,220.31 334.14,221.94 334.26,220.61 334.38,221.48 334.50,216.76 334.62,219.37 334.74,221.78 334.86,222.02 334.98,221.22 335.10,222.98 335.22,221.65 335.34,221.67 335.46,219.31 335.58,221.23 335.70,221.76 335.82,222.57 335.94,222.34 336.06,220.72 336.18,220.95 336.30,218.98 336.42,221.56 336.54,219.10 336.66,220.28 336.78,220.67 336.90,223.60 337.02,222.56 337.14,219.59 337.26,218.64 337.38,220.39 337.50,219.58 337.62,221.30 337.74,221.25 337.86,221.68 337.98,219.29 338.10,220.22 338.22,221.07 338.34,221.21 338.46,219.92 338.58,220.27 338.70,221.97 338.82,218.24 338.94,220.39 339.06,220.75 339.18,218.61 339.30,219.28 339.42,220.91 339.54,220.00 339.66,222.37 339.78,221.74 339.90,224.12 340.02,219.02 340.14,223.61 340.26,219.82 340.38,222.05 340.50,222.27 340.62,221.13 340.74,220.46 340.86,219.95 340.98,218.25 341.10,220.34 341.22,219.57 341.34,221.75 341.46,219.83 341.58,220.66 341.70,221.57 341.82,221.04 341.94,220.99 342.06,220.63 342.18,220.32 342.30,221.67 342.42,222.02" fill="none" stroke="#111" stroke-width="2.7" stroke-linejoin="round"/>
<g stroke="#6a6a6a" stroke-width="1.5" fill="none">
<rect x="54.0" y="8.0" width="289.0" height="227.0"/>
<line x1="54.10" y1="235.0" x2="54.10" y2="239.3"/>
<line x1="54.10" y1="8.0" x2="54.10" y2="3.7"/>
<line x1="62.35" y1="235.0" x2="62.35" y2="237.5"/>
<line x1="62.35" y1="8.0" x2="62.35" y2="5.5"/>
<line x1="70.60" y1="235.0" x2="70.60" y2="237.5"/>
<line x1="70.60" y1="8.0" x2="70.60" y2="5.5"/>
<line x1="78.84" y1="235.0" x2="78.84" y2="237.5"/>
<line x1="78.84" y1="8.0" x2="78.84" y2="5.5"/>
<line x1="87.09" y1="235.0" x2="87.09" y2="237.5"/>
<line x1="87.09" y1="8.0" x2="87.09" y2="5.5"/>
<line x1="95.34" y1="235.0" x2="95.34" y2="239.3"/>
<line x1="95.34" y1="8.0" x2="95.34" y2="3.7"/>
<line x1="103.59" y1="235.0" x2="103.59" y2="237.5"/>
<line x1="103.59" y1="8.0" x2="103.59" y2="5.5"/>
<line x1="111.84" y1="235.0" x2="111.84" y2="237.5"/>
<line x1="111.84" y1="8.0" x2="111.84" y2="5.5"/>
<line x1="120.08" y1="235.0" x2="120.08" y2="237.5"/>
<line x1="120.08" y1="8.0" x2="120.08" y2="5.5"/>
<line x1="128.33" y1="235.0" x2="128.33" y2="237.5"/>
<line x1="128.33" y1="8.0" x2="128.33" y2="5.5"/>
<line x1="136.58" y1="235.0" x2="136.58" y2="239.3"/>
<line x1="136.58" y1="8.0" x2="136.58" y2="3.7"/>
<line x1="144.83" y1="235.0" x2="144.83" y2="237.5"/>
<line x1="144.83" y1="8.0" x2="144.83" y2="5.5"/>
<line x1="153.08" y1="235.0" x2="153.08" y2="237.5"/>
<line x1="153.08" y1="8.0" x2="153.08" y2="5.5"/>
<line x1="161.32" y1="235.0" x2="161.32" y2="237.5"/>
<line x1="161.32" y1="8.0" x2="161.32" y2="5.5"/>
<line x1="169.57" y1="235.0" x2="169.57" y2="237.5"/>
<line x1="169.57" y1="8.0" x2="169.57" y2="5.5"/>
<line x1="177.82" y1="235.0" x2="177.82" y2="239.3"/>
<line x1="177.82" y1="8.0" x2="177.82" y2="3.7"/>
<line x1="186.07" y1="235.0" x2="186.07" y2="237.5"/>
<line x1="186.07" y1="8.0" x2="186.07" y2="5.5"/>
<line x1="194.32" y1="235.0" x2="194.32" y2="237.5"/>
<line x1="194.32" y1="8.0" x2="194.32" y2="5.5"/>
<line x1="202.56" y1="235.0" x2="202.56" y2="237.5"/>
<line x1="202.56" y1="8.0" x2="202.56" y2="5.5"/>
<line x1="210.81" y1="235.0" x2="210.81" y2="237.5"/>
<line x1="210.81" y1="8.0" x2="210.81" y2="5.5"/>
<line x1="219.06" y1="235.0" x2="219.06" y2="239.3"/>
<line x1="219.06" y1="8.0" x2="219.06" y2="3.7"/>
<line x1="227.31" y1="235.0" x2="227.31" y2="237.5"/>
<line x1="227.31" y1="8.0" x2="227.31" y2="5.5"/>
<line x1="235.56" y1="235.0" x2="235.56" y2="237.5"/>
<line x1="235.56" y1="8.0" x2="235.56" y2="5.5"/>
<line x1="243.80" y1="235.0" x2="243.80" y2="237.5"/>
<line x1="243.80" y1="8.0" x2="243.80" y2="5.5"/>
<line x1="252.05" y1="235.0" x2="252.05" y2="237.5"/>
<line x1="252.05" y1="8.0" x2="252.05" y2="5.5"/>
<line x1="260.30" y1="235.0" x2="260.30" y2="239.3"/>
<line x1="260.30" y1="8.0" x2="260.30" y2="3.7"/>
<line x1="268.55" y1="235.0" x2="268.55" y2="237.5"/>
<line x1="268.55" y1="8.0" x2="268.55" y2="5.5"/>
<line x1="276.80" y1="235.0" x2="276.80" y2="237.5"/>
<line x1="276.80" y1="8.0" x2="276.80" y2="5.5"/>
<line x1="285.04" y1="235.0" x2="285.04" y2="237.5"/>
<line x1="285.04" y1="8.0" x2="285.04" y2="5.5"/>
<line x1="293.29" y1="235.0" x2="293.29" y2="237.5"/>
<line x1="293.29" y1="8.0" x2="293.29" y2="5.5"/>
<line x1="301.54" y1="235.0" x2="301.54" y2="239.3"/>
<line x1="301.54" y1="8.0" x2="301.54" y2="3.7"/>
<line x1="309.79" y1="235.0" x2="309.79" y2="237.5"/>
<line x1="309.79" y1="8.0" x2="309.79" y2="5.5"/>
<line x1="318.04" y1="235.0" x2="318.04" y2="237.5"/>
<line x1="318.04" y1="8.0" x2="318.04" y2="5.5"/>
<line x1="326.28" y1="235.0" x2="326.28" y2="237.5"/>
<line x1="326.28" y1="8.0" x2="326.28" y2="5.5"/>
<line x1="334.53" y1="235.0" x2="334.53" y2="237.5"/>
<line x1="334.53" y1="8.0" x2="334.53" y2="5.5"/>
<line x1="342.78" y1="235.0" x2="342.78" y2="239.3"/>
<line x1="342.78" y1="8.0" x2="342.78" y2="3.7"/>
<line x1="49.2" y1="235.00" x2="54.0" y2="235.00"/>
<line x1="343.0" y1="235.00" x2="347.5" y2="235.00"/>
<line x1="51.4" y1="219.13" x2="54.0" y2="219.13"/>
<line x1="343.0" y1="219.13" x2="345.5" y2="219.13"/>
<line x1="49.2" y1="212.30" x2="54.0" y2="212.30"/>
<line x1="343.0" y1="212.30" x2="347.5" y2="212.30"/>
<line x1="51.4" y1="196.43" x2="54.0" y2="196.43"/>
<line x1="343.0" y1="196.43" x2="345.5" y2="196.43"/>
<line x1="49.2" y1="189.60" x2="54.0" y2="189.60"/>
<line x1="343.0" y1="189.60" x2="347.5" y2="189.60"/>
<line x1="51.4" y1="173.73" x2="54.0" y2="173.73"/>
<line x1="343.0" y1="173.73" x2="345.5" y2="173.73"/>
<line x1="49.2" y1="166.90" x2="54.0" y2="166.90"/>
<line x1="343.0" y1="166.90" x2="347.5" y2="166.90"/>
<line x1="51.4" y1="151.03" x2="54.0" y2="151.03"/>
<line x1="343.0" y1="151.03" x2="345.5" y2="151.03"/>
<line x1="49.2" y1="144.20" x2="54.0" y2="144.20"/>
<line x1="343.0" y1="144.20" x2="347.5" y2="144.20"/>
<line x1="51.4" y1="128.33" x2="54.0" y2="128.33"/>
<line x1="343.0" y1="128.33" x2="345.5" y2="128.33"/>
<line x1="49.2" y1="121.50" x2="54.0" y2="121.50"/>
<line x1="343.0" y1="121.50" x2="347.5" y2="121.50"/>
<line x1="51.4" y1="105.63" x2="54.0" y2="105.63"/>
<line x1="343.0" y1="105.63" x2="345.5" y2="105.63"/>
<line x1="49.2" y1="98.80" x2="54.0" y2="98.80"/>
<line x1="343.0" y1="98.80" x2="347.5" y2="98.80"/>
<line x1="51.4" y1="82.93" x2="54.0" y2="82.93"/>
<line x1="343.0" y1="82.93" x2="345.5" y2="82.93"/>
<line x1="49.2" y1="76.10" x2="54.0" y2="76.10"/>
<line x1="343.0" y1="76.10" x2="347.5" y2="76.10"/>
<line x1="51.4" y1="60.23" x2="54.0" y2="60.23"/>
<line x1="343.0" y1="60.23" x2="345.5" y2="60.23"/>
<line x1="49.2" y1="53.40" x2="54.0" y2="53.40"/>
<line x1="343.0" y1="53.40" x2="347.5" y2="53.40"/>
<line x1="51.4" y1="37.53" x2="54.0" y2="37.53"/>
<line x1="343.0" y1="37.53" x2="345.5" y2="37.53"/>
<line x1="49.2" y1="30.70" x2="54.0" y2="30.70"/>
<line x1="343.0" y1="30.70" x2="347.5" y2="30.70"/>
<line x1="51.4" y1="14.83" x2="54.0" y2="14.83"/>
<line x1="343.0" y1="14.83" x2="345.5" y2="14.83"/>
<line x1="49.2" y1="8.00" x2="54.0" y2="8.00"/>
<line x1="343.0" y1="8.00" x2="347.5" y2="8.00"/>
</g>
<g font-family="Liberation Sans, sans-serif" font-size="14.7" fill="#1a1a1a" text-anchor="middle">
<text x="54.10" y="253.8">10</text>
<text x="95.34" y="253.8">20</text>
<text x="136.58" y="253.8">30</text>
<text x="177.82" y="253.8">40</text>
<text x="219.06" y="253.8">50</text>
<text x="260.30" y="253.8">60</text>
<text x="301.54" y="253.8">70</text>
<text x="342.78" y="253.8">80</text>
</g>
<g font-family="Liberation Sans, sans-serif" fill="#1a1a1a">
<text x="46.6" y="13.20" text-anchor="end" font-size="14.8">10<tspan font-size="8.8" dx="-0.4" dy="-6.8">11</tspan></text>
<text x="46.6" y="58.60" text-anchor="end" font-size="14.8">10<tspan font-size="8.8" dx="-0.4" dy="-6.8">9</tspan></text>
<text x="46.6" y="104.00" text-anchor="end" font-size="14.8">10<tspan font-size="8.8" dx="-0.4" dy="-6.8">7</tspan></text>
<text x="46.6" y="149.40" text-anchor="end" font-size="14.8">10<tspan font-size="8.8" dx="-0.4" dy="-6.8">5</tspan></text>
<text x="46.6" y="194.80" text-anchor="end" font-size="14.8">10<tspan font-size="8.8" dx="-0.4" dy="-6.8">3</tspan></text>
<text x="46.6" y="240.20" text-anchor="end" font-size="14.8">10<tspan font-size="8.8" dx="-0.4" dy="-6.8">1</tspan></text>
</g>
<text transform="translate(13.4,180.4) rotate(-90)" font-family="Liberation Sans, sans-serif" font-size="17.2" font-weight="bold" fill="#111">Intensity [a.u.]</text>
<text y="275.8" font-family="Liberation Sans, sans-serif" fill="#111"><tspan x="179.0" font-weight="bold" font-size="17.5">2</tspan><tspan x="202.7" y="275.5" font-size="17">[</tspan><tspan x="208.3" font-size="17">°</tspan><tspan x="216.4" font-size="17">]</tspan></text>
<text transform="translate(188.8,275.8) scale(1.12,1)" font-family="Liberation Sans, sans-serif" font-size="17.5" font-style="italic" fill="#111">θ</text>
<text transform="translate(91.1,198.1) rotate(-90)" font-family="Liberation Sans, sans-serif" font-size="14" font-weight="bold" fill="#111">(001) FST</text>
<text transform="translate(130.5,207.3) rotate(-90)" font-family="Liberation Sans, sans-serif" font-size="14" font-weight="bold" fill="#111">(002) FST</text>
<text transform="translate(165.9,209.2) rotate(-90)" font-family="Liberation Sans, sans-serif" font-size="14" font-weight="normal" fill="#111">(002) CeO<tspan font-size="9" dy="5.3">2</tspan></text>
<text transform="translate(207.25,188.4) rotate(-90)" font-family="Liberation Sans, sans-serif" font-size="14" font-weight="bold" fill="#111">(003) FST</text>
<text transform="translate(243.0,190.2) rotate(-90)" font-family="Liberation Sans, sans-serif" font-size="14" font-weight="normal" fill="#111">(002) NiW</text>
<text transform="translate(276.75,194.9) rotate(-90)" font-family="Liberation Sans, sans-serif" font-size="14" font-weight="bold" fill="#111">(004) FST</text>
<text transform="translate(315.5,205.2) rotate(-90)" font-family="Liberation Sans, sans-serif" font-size="14" font-weight="normal" fill="#111">(004) CeO<tspan font-size="9" dy="5.5">2</tspan></text>
<rect x="57.0" y="10.15" width="133.5" height="107.64999999999999" fill="#fff" stroke="#b0b0b0" stroke-width="1.2"/>
<g stroke="#a0a0a0" stroke-width="0.9">
<line x1="63.20" y1="117.8" x2="63.20" y2="119.8"/>
<line x1="63.20" y1="10.15" x2="63.20" y2="12.15"/>
<line x1="69.26" y1="117.8" x2="69.26" y2="119.1"/>
<line x1="69.26" y1="10.15" x2="69.26" y2="11.450000000000001"/>
<line x1="75.32" y1="117.8" x2="75.32" y2="119.8"/>
<line x1="75.32" y1="10.15" x2="75.32" y2="12.15"/>
<line x1="81.38" y1="117.8" x2="81.38" y2="119.1"/>
<line x1="81.38" y1="10.15" x2="81.38" y2="11.450000000000001"/>
<line x1="87.44" y1="117.8" x2="87.44" y2="119.8"/>
<line x1="87.44" y1="10.15" x2="87.44" y2="12.15"/>
<line x1="93.50" y1="117.8" x2="93.50" y2="119.1"/>
<line x1="93.50" y1="10.15" x2="93.50" y2="11.450000000000001"/>
<line x1="99.56" y1="117.8" x2="99.56" y2="119.8"/>
<line x1="99.56" y1="10.15" x2="99.56" y2="12.15"/>
<line x1="105.62" y1="117.8" x2="105.62" y2="119.1"/>
<line x1="105.62" y1="10.15" x2="105.62" y2="11.450000000000001"/>
<line x1="111.68" y1="117.8" x2="111.68" y2="119.8"/>
<line x1="111.68" y1="10.15" x2="111.68" y2="12.15"/>
<line x1="117.74" y1="117.8" x2="117.74" y2="119.1"/>
<line x1="117.74" y1="10.15" x2="117.74" y2="11.450000000000001"/>
<line x1="123.80" y1="117.8" x2="123.80" y2="119.8"/>
<line x1="123.80" y1="10.15" x2="123.80" y2="12.15"/>
<line x1="129.86" y1="117.8" x2="129.86" y2="119.1"/>
<line x1="129.86" y1="10.15" x2="129.86" y2="11.450000000000001"/>
<line x1="135.92" y1="117.8" x2="135.92" y2="119.8"/>
<line x1="135.92" y1="10.15" x2="135.92" y2="12.15"/>
<line x1="141.98" y1="117.8" x2="141.98" y2="119.1"/>
<line x1="141.98" y1="10.15" x2="141.98" y2="11.450000000000001"/>
<line x1="148.04" y1="117.8" x2="148.04" y2="119.8"/>
<line x1="148.04" y1="10.15" x2="148.04" y2="12.15"/>
<line x1="154.10" y1="117.8" x2="154.10" y2="119.1"/>
<line x1="154.10" y1="10.15" x2="154.10" y2="11.450000000000001"/>
<line x1="160.16" y1="117.8" x2="160.16" y2="119.8"/>
<line x1="160.16" y1="10.15" x2="160.16" y2="12.15"/>
<line x1="166.22" y1="117.8" x2="166.22" y2="119.1"/>
<line x1="166.22" y1="10.15" x2="166.22" y2="11.450000000000001"/>
<line x1="172.28" y1="117.8" x2="172.28" y2="119.8"/>
<line x1="172.28" y1="10.15" x2="172.28" y2="12.15"/>
<line x1="178.34" y1="117.8" x2="178.34" y2="119.1"/>
<line x1="178.34" y1="10.15" x2="178.34" y2="11.450000000000001"/>
<line x1="184.40" y1="117.8" x2="184.40" y2="119.8"/>
<line x1="184.40" y1="10.15" x2="184.40" y2="12.15"/>
<line x1="190.5" y1="26.6" x2="188.5" y2="26.6"/>
<line x1="57.0" y1="26.6" x2="55.0" y2="26.6"/>
<line x1="190.5" y1="47.0" x2="188.5" y2="47.0"/>
<line x1="57.0" y1="47.0" x2="55.0" y2="47.0"/>
<line x1="190.5" y1="67.8" x2="188.5" y2="67.8"/>
<line x1="57.0" y1="67.8" x2="55.0" y2="67.8"/>
<line x1="190.5" y1="88.3" x2="188.5" y2="88.3"/>
<line x1="57.0" y1="88.3" x2="55.0" y2="88.3"/>
<line x1="190.5" y1="108.8" x2="188.5" y2="108.8"/>
<line x1="57.0" y1="108.8" x2="55.0" y2="108.8"/>
</g>
<g font-family="Liberation Sans, sans-serif" font-size="6.6" fill="#222" text-anchor="middle">
<text x="63.20" y="127.1">-10</text>
<text x="75.32" y="127.1">-8</text>
<text x="87.44" y="127.1">-6</text>
<text x="99.56" y="127.1">-4</text>
<text x="111.68" y="127.1">-2</text>
<text x="123.80" y="127.1">0</text>
<text x="135.92" y="127.1">2</text>
<text x="148.04" y="127.1">4</text>
<text x="160.16" y="127.1">6</text>
<text x="172.28" y="127.1">8</text>
<text x="184.40" y="127.1">10</text>
</g>
<text y="138.8" fill="#111"><tspan x="113.4" font-family="Liberation Serif, serif" font-style="italic" font-size="12.8">ω</tspan><tspan x="124.6" font-family="Liberation Sans, sans-serif" font-size="12">[°]</tspan></text>
<text x="63.3" y="31.1" font-family="Liberation Sans, sans-serif" font-size="10.5" font-weight="bold" fill="#111">(002) FST</text>
<text x="143.5" y="25.2" font-family="Liberation Sans, sans-serif" font-size="9.5" fill="#222">FWHM</text>
<text x="143.5" y="36.0" font-family="Liberation Sans, sans-serif" font-size="9.5" fill="#222">TD = 6.6°</text>
<defs><radialGradient id="sph" cx="50%" cy="50%" r="50%" fx="38%" fy="35%"><stop offset="0" stop-color="#e8e8e8"/><stop offset="0.35" stop-color="#707070"/><stop offset="0.8" stop-color="#222"/><stop offset="1" stop-color="#111"/></radialGradient></defs>
<g fill="url(#sph)">
<circle cx="61.60" cy="105.12" r="2.2"/>
<circle cx="62.05" cy="107.07" r="2.2"/>
<circle cx="62.50" cy="106.69" r="2.2"/>
<circle cx="62.95" cy="103.73" r="2.2"/>
<circle cx="63.40" cy="103.90" r="2.2"/>
<circle cx="63.85" cy="103.35" r="2.2"/>
<circle cx="64.30" cy="104.97" r="2.2"/>
<circle cx="64.75" cy="103.77" r="2.2"/>
<circle cx="65.20" cy="104.93" r="2.2"/>
<circle cx="65.65" cy="100.44" r="2.2"/>
<circle cx="66.10" cy="105.97" r="2.2"/>
<circle cx="66.55" cy="103.01" r="2.2"/>
<circle cx="67.00" cy="104.15" r="2.2"/>
<circle cx="67.45" cy="102.54" r="2.2"/>
<circle cx="67.90" cy="101.90" r="2.2"/>
<circle cx="68.35" cy="103.12" r="2.2"/>
<circle cx="68.80" cy="103.52" r="2.2"/>
<circle cx="69.25" cy="101.52" r="2.2"/>
<circle cx="69.70" cy="101.38" r="2.2"/>
<circle cx="70.15" cy="102.63" r="2.2"/>
<circle cx="70.60" cy="99.67" r="2.2"/>
<circle cx="71.05" cy="98.29" r="2.2"/>
<circle cx="71.50" cy="101.45" r="2.2"/>
<circle cx="71.95" cy="99.33" r="2.2"/>
<circle cx="72.40" cy="96.85" r="2.2"/>
<circle cx="72.85" cy="98.61" r="2.2"/>
<circle cx="73.30" cy="99.00" r="2.2"/>
<circle cx="73.75" cy="97.45" r="2.2"/>
<circle cx="74.20" cy="96.67" r="2.2"/>
<circle cx="74.65" cy="99.24" r="2.2"/>
<circle cx="75.10" cy="100.60" r="2.2"/>
<circle cx="75.55" cy="98.22" r="2.2"/>
<circle cx="76.00" cy="96.99" r="2.2"/>
<circle cx="76.45" cy="98.82" r="2.2"/>
<circle cx="76.90" cy="99.16" r="2.2"/>
<circle cx="77.35" cy="96.96" r="2.2"/>
<circle cx="77.80" cy="98.28" r="2.2"/>
<circle cx="78.25" cy="98.96" r="2.2"/>
<circle cx="78.70" cy="96.29" r="2.2"/>
<circle cx="79.15" cy="94.85" r="2.2"/>
<circle cx="79.60" cy="96.83" r="2.2"/>
<circle cx="80.05" cy="96.38" r="2.2"/>
<circle cx="80.50" cy="97.78" r="2.2"/>
<circle cx="80.95" cy="92.86" r="2.2"/>
<circle cx="81.40" cy="93.82" r="2.2"/>
<circle cx="81.85" cy="93.20" r="2.2"/>
<circle cx="82.30" cy="91.16" r="2.2"/>
<circle cx="82.75" cy="94.60" r="2.2"/>
<circle cx="83.20" cy="95.05" r="2.2"/>
<circle cx="83.65" cy="92.03" r="2.2"/>
<circle cx="84.10" cy="95.89" r="2.2"/>
<circle cx="84.55" cy="94.28" r="2.2"/>
<circle cx="85.00" cy="93.42" r="2.2"/>
<circle cx="85.45" cy="92.49" r="2.2"/>
<circle cx="85.90" cy="93.21" r="2.2"/>
<circle cx="86.35" cy="87.87" r="2.2"/>
<circle cx="86.80" cy="91.57" r="2.2"/>
<circle cx="87.25" cy="91.09" r="2.2"/>
<circle cx="87.70" cy="85.44" r="2.2"/>
<circle cx="88.15" cy="89.58" r="2.2"/>
<circle cx="88.60" cy="87.71" r="2.2"/>
<circle cx="89.05" cy="89.48" r="2.2"/>
<circle cx="89.50" cy="86.18" r="2.2"/>
<circle cx="89.95" cy="86.59" r="2.2"/>
<circle cx="90.40" cy="86.87" r="2.2"/>
<circle cx="90.85" cy="83.51" r="2.2"/>
<circle cx="91.30" cy="86.38" r="2.2"/>
<circle cx="91.75" cy="84.18" r="2.2"/>
<circle cx="92.20" cy="84.91" r="2.2"/>
<circle cx="92.65" cy="81.82" r="2.2"/>
<circle cx="93.10" cy="84.99" r="2.2"/>
<circle cx="93.55" cy="83.17" r="2.2"/>
<circle cx="94.00" cy="80.59" r="2.2"/>
<circle cx="94.45" cy="81.90" r="2.2"/>
<circle cx="94.90" cy="82.78" r="2.2"/>
<circle cx="95.35" cy="83.45" r="2.2"/>
<circle cx="95.80" cy="74.35" r="2.2"/>
<circle cx="96.25" cy="79.83" r="2.2"/>
<circle cx="96.70" cy="78.06" r="2.2"/>
<circle cx="97.15" cy="75.92" r="2.2"/>
<circle cx="97.60" cy="72.84" r="2.2"/>
<circle cx="98.05" cy="77.99" r="2.2"/>
<circle cx="98.50" cy="70.69" r="2.2"/>
<circle cx="98.95" cy="74.78" r="2.2"/>
<circle cx="99.40" cy="76.02" r="2.2"/>
<circle cx="99.85" cy="67.56" r="2.2"/>
<circle cx="100.30" cy="70.31" r="2.2"/>
<circle cx="100.75" cy="66.85" r="2.2"/>
<circle cx="101.20" cy="70.11" r="2.2"/>
<circle cx="101.65" cy="72.35" r="2.2"/>
<circle cx="102.10" cy="72.54" r="2.2"/>
<circle cx="102.55" cy="60.75" r="2.2"/>
<circle cx="103.00" cy="62.83" r="2.2"/>
<circle cx="103.45" cy="65.17" r="2.2"/>
<circle cx="103.90" cy="66.40" r="2.2"/>
<circle cx="104.35" cy="61.89" r="2.2"/>
<circle cx="104.80" cy="57.36" r="2.2"/>
<circle cx="105.25" cy="59.14" r="2.2"/>
<circle cx="105.70" cy="57.07" r="2.2"/>
<circle cx="106.15" cy="55.35" r="2.2"/>
<circle cx="106.60" cy="52.64" r="2.2"/>
<circle cx="107.05" cy="54.68" r="2.2"/>
<circle cx="107.50" cy="53.28" r="2.2"/>
<circle cx="107.95" cy="50.94" r="2.2"/>
<circle cx="108.40" cy="49.38" r="2.2"/>
<circle cx="108.85" cy="44.88" r="2.2"/>
<circle cx="109.30" cy="45.65" r="2.2"/>
<circle cx="109.75" cy="49.05" r="2.2"/>
<circle cx="110.20" cy="43.38" r="2.2"/>
<circle cx="110.65" cy="38.13" r="2.2"/>
<circle cx="111.10" cy="44.77" r="2.2"/>
<circle cx="111.55" cy="40.83" r="2.2"/>
<circle cx="112.00" cy="43.98" r="2.2"/>
<circle cx="112.45" cy="36.01" r="2.2"/>
<circle cx="112.90" cy="32.31" r="2.2"/>
<circle cx="113.35" cy="27.23" r="2.2"/>
<circle cx="113.80" cy="33.42" r="2.2"/>
<circle cx="114.25" cy="35.56" r="2.2"/>
<circle cx="114.70" cy="24.81" r="2.2"/>
<circle cx="115.15" cy="24.55" r="2.2"/>
<circle cx="115.60" cy="27.49" r="2.2"/>
<circle cx="116.05" cy="22.48" r="2.2"/>
<circle cx="116.50" cy="23.86" r="2.2"/>
<circle cx="116.95" cy="23.33" r="2.2"/>
<circle cx="117.40" cy="24.63" r="2.2"/>
<circle cx="117.85" cy="26.99" r="2.2"/>
<circle cx="118.30" cy="23.53" r="2.2"/>
<circle cx="118.75" cy="25.85" r="2.2"/>
<circle cx="119.20" cy="21.73" r="2.2"/>
<circle cx="119.65" cy="23.79" r="2.2"/>
<circle cx="120.10" cy="16.56" r="2.2"/>
<circle cx="120.55" cy="18.45" r="2.2"/>
<circle cx="121.00" cy="24.77" r="2.2"/>
<circle cx="121.45" cy="20.71" r="2.2"/>
<circle cx="121.90" cy="23.92" r="2.2"/>
<circle cx="122.35" cy="23.69" r="2.2"/>
<circle cx="122.80" cy="25.76" r="2.2"/>
<circle cx="123.25" cy="24.34" r="2.2"/>
<circle cx="123.70" cy="25.04" r="2.2"/>
<circle cx="124.15" cy="21.97" r="2.2"/>
<circle cx="124.60" cy="20.41" r="2.2"/>
<circle cx="125.05" cy="20.42" r="2.2"/>
<circle cx="125.50" cy="21.22" r="2.2"/>
<circle cx="125.95" cy="19.48" r="2.2"/>
<circle cx="126.40" cy="21.26" r="2.2"/>
<circle cx="126.85" cy="22.69" r="2.2"/>
<circle cx="127.30" cy="23.94" r="2.2"/>
<circle cx="127.75" cy="22.51" r="2.2"/>
<circle cx="128.20" cy="18.13" r="2.2"/>
<circle cx="128.65" cy="23.89" r="2.2"/>
<circle cx="129.10" cy="25.07" r="2.2"/>
<circle cx="129.55" cy="27.94" r="2.2"/>
<circle cx="130.00" cy="26.73" r="2.2"/>
<circle cx="130.45" cy="23.86" r="2.2"/>
<circle cx="130.90" cy="24.40" r="2.2"/>
<circle cx="131.35" cy="33.39" r="2.2"/>
<circle cx="131.80" cy="30.42" r="2.2"/>
<circle cx="132.25" cy="35.17" r="2.2"/>
<circle cx="132.70" cy="38.19" r="2.2"/>
<circle cx="133.15" cy="31.48" r="2.2"/>
<circle cx="133.60" cy="37.21" r="2.2"/>
<circle cx="134.05" cy="39.23" r="2.2"/>
<circle cx="134.50" cy="41.09" r="2.2"/>
<circle cx="134.95" cy="42.60" r="2.2"/>
<circle cx="135.40" cy="43.15" r="2.2"/>
<circle cx="135.85" cy="44.63" r="2.2"/>
<circle cx="136.30" cy="41.27" r="2.2"/>
<circle cx="136.75" cy="46.76" r="2.2"/>
<circle cx="137.20" cy="46.63" r="2.2"/>
<circle cx="137.65" cy="50.52" r="2.2"/>
<circle cx="138.10" cy="49.98" r="2.2"/>
<circle cx="138.55" cy="54.31" r="2.2"/>
<circle cx="139.00" cy="56.06" r="2.2"/>
<circle cx="139.45" cy="55.77" r="2.2"/>
<circle cx="139.90" cy="56.97" r="2.2"/>
<circle cx="140.35" cy="57.51" r="2.2"/>
<circle cx="140.80" cy="57.15" r="2.2"/>
<circle cx="141.25" cy="59.14" r="2.2"/>
<circle cx="141.70" cy="59.43" r="2.2"/>
<circle cx="142.15" cy="63.18" r="2.2"/>
<circle cx="142.60" cy="63.37" r="2.2"/>
<circle cx="143.05" cy="66.21" r="2.2"/>
<circle cx="143.50" cy="62.14" r="2.2"/>
<circle cx="143.95" cy="69.54" r="2.2"/>
<circle cx="144.40" cy="66.24" r="2.2"/>
<circle cx="144.85" cy="67.58" r="2.2"/>
<circle cx="145.30" cy="69.95" r="2.2"/>
<circle cx="145.75" cy="69.68" r="2.2"/>
<circle cx="146.20" cy="72.70" r="2.2"/>
<circle cx="146.65" cy="71.12" r="2.2"/>
<circle cx="147.10" cy="70.54" r="2.2"/>
<circle cx="147.55" cy="71.87" r="2.2"/>
<circle cx="148.00" cy="78.21" r="2.2"/>
<circle cx="148.45" cy="75.63" r="2.2"/>
<circle cx="148.90" cy="73.25" r="2.2"/>
<circle cx="149.35" cy="76.98" r="2.2"/>
<circle cx="149.80" cy="73.75" r="2.2"/>
<circle cx="150.25" cy="82.87" r="2.2"/>
<circle cx="150.70" cy="75.26" r="2.2"/>
<circle cx="151.15" cy="80.92" r="2.2"/>
<circle cx="151.60" cy="81.75" r="2.2"/>
<circle cx="152.05" cy="77.56" r="2.2"/>
<circle cx="152.50" cy="82.51" r="2.2"/>
<circle cx="152.95" cy="84.85" r="2.2"/>
<circle cx="153.40" cy="84.25" r="2.2"/>
<circle cx="153.85" cy="84.44" r="2.2"/>
<circle cx="154.30" cy="86.73" r="2.2"/>
<circle cx="154.75" cy="85.42" r="2.2"/>
<circle cx="155.20" cy="86.37" r="2.2"/>
<circle cx="155.65" cy="85.85" r="2.2"/>
<circle cx="156.10" cy="88.13" r="2.2"/>
<circle cx="156.55" cy="85.11" r="2.2"/>
<circle cx="157.00" cy="89.56" r="2.2"/>
<circle cx="157.45" cy="87.21" r="2.2"/>
<circle cx="157.90" cy="86.47" r="2.2"/>
<circle cx="158.35" cy="90.16" r="2.2"/>
<circle cx="158.80" cy="93.50" r="2.2"/>
<circle cx="159.25" cy="92.37" r="2.2"/>
<circle cx="159.70" cy="89.67" r="2.2"/>
<circle cx="160.15" cy="92.71" r="2.2"/>
<circle cx="160.60" cy="90.75" r="2.2"/>
<circle cx="161.05" cy="91.91" r="2.2"/>
<circle cx="161.50" cy="92.82" r="2.2"/>
<circle cx="161.95" cy="88.38" r="2.2"/>
<circle cx="162.40" cy="93.96" r="2.2"/>
<circle cx="162.85" cy="91.98" r="2.2"/>
<circle cx="163.30" cy="92.98" r="2.2"/>
<circle cx="163.75" cy="91.70" r="2.2"/>
<circle cx="164.20" cy="91.89" r="2.2"/>
<circle cx="164.65" cy="93.29" r="2.2"/>
<circle cx="165.10" cy="97.03" r="2.2"/>
<circle cx="165.55" cy="98.92" r="2.2"/>
<circle cx="166.00" cy="95.88" r="2.2"/>
<circle cx="166.45" cy="98.29" r="2.2"/>
<circle cx="166.90" cy="95.93" r="2.2"/>
<circle cx="167.35" cy="93.05" r="2.2"/>
<circle cx="167.80" cy="97.29" r="2.2"/>
<circle cx="168.25" cy="98.13" r="2.2"/>
<circle cx="168.70" cy="96.75" r="2.2"/>
<circle cx="169.15" cy="98.41" r="2.2"/>
<circle cx="169.60" cy="99.20" r="2.2"/>
<circle cx="170.05" cy="96.80" r="2.2"/>
<circle cx="170.50" cy="95.95" r="2.2"/>
<circle cx="170.95" cy="98.56" r="2.2"/>
<circle cx="171.40" cy="98.81" r="2.2"/>
<circle cx="171.85" cy="98.78" r="2.2"/>
<circle cx="172.30" cy="101.45" r="2.2"/>
<circle cx="172.75" cy="103.00" r="2.2"/>
<circle cx="173.20" cy="99.35" r="2.2"/>
<circle cx="173.65" cy="101.58" r="2.2"/>
<circle cx="174.10" cy="102.23" r="2.2"/>
<circle cx="174.55" cy="102.04" r="2.2"/>
<circle cx="175.00" cy="102.85" r="2.2"/>
<circle cx="175.45" cy="100.54" r="2.2"/>
<circle cx="175.90" cy="102.75" r="2.2"/>
<circle cx="176.35" cy="105.20" r="2.2"/>
<circle cx="176.80" cy="103.29" r="2.2"/>
<circle cx="177.25" cy="101.06" r="2.2"/>
<circle cx="177.70" cy="103.39" r="2.2"/>
<circle cx="178.15" cy="104.73" r="2.2"/>
<circle cx="178.60" cy="103.43" r="2.2"/>
<circle cx="179.05" cy="102.07" r="2.2"/>
<circle cx="179.50" cy="105.79" r="2.2"/>
<circle cx="179.95" cy="101.27" r="2.2"/>
<circle cx="180.40" cy="104.38" r="2.2"/>
<circle cx="180.85" cy="103.68" r="2.2"/>
<circle cx="181.30" cy="101.91" r="2.2"/>
<circle cx="181.75" cy="106.05" r="2.2"/>
<circle cx="182.20" cy="104.79" r="2.2"/>
<circle cx="182.65" cy="102.51" r="2.2"/>
<circle cx="183.10" cy="105.54" r="2.2"/>
<circle cx="183.55" cy="104.05" r="2.2"/>
<circle cx="184.00" cy="101.88" r="2.2"/>
<circle cx="184.45" cy="104.00" r="2.2"/>
<circle cx="184.90" cy="105.68" r="2.2"/>
<circle cx="185.35" cy="106.36" r="2.2"/>
<circle cx="118.00" cy="17.20" r="2.2"/>
<circle cx="131.00" cy="17.20" r="2.2"/>
<circle cx="125.90" cy="15.00" r="2.2"/>
<circle cx="121.60" cy="20.00" r="2.2"/>
<circle cx="129.50" cy="20.80" r="2.2"/>
<circle cx="139.30" cy="41.60" r="2.2"/>
<circle cx="140.20" cy="41.80" r="2.2"/>
</g>
</svg>
</body></html>
